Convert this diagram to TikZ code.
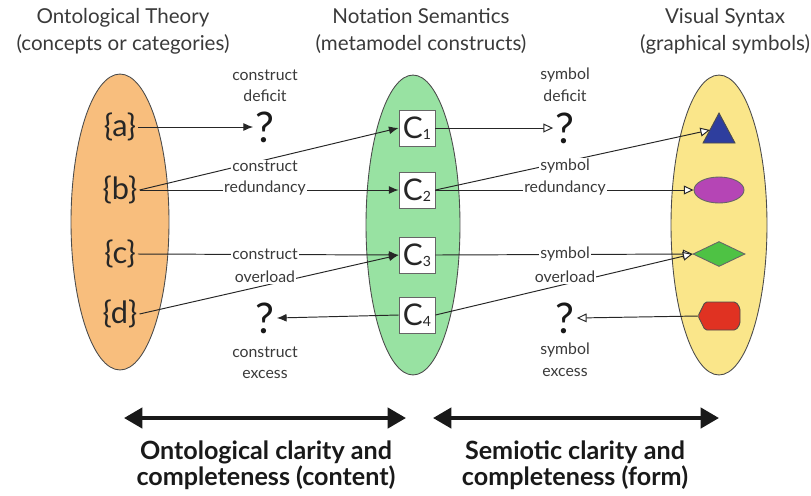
\documentclass[tikz,border=0pt]{standalone}
\usepackage{fontspec}
\setmainfont{Lato}
\usetikzlibrary{arrows.meta,shapes.geometric}
\definecolor{ontofill}{HTML}{F8BE7D}
\definecolor{semfill}{HTML}{98E2A2}
\definecolor{synfill}{HTML}{FAE68A}
\definecolor{triblue}{HTML}{2E3E9E}
\definecolor{ellpurple}{HTML}{B545B5}
\definecolor{diagreen}{HTML}{4EC244}
\definecolor{hexred}{HTML}{E03222}
\definecolor{txt}{HTML}{3A3A3A}
\begin{document}
\begin{tikzpicture}[x=0.02cm,y=-0.02cm,
  big/.style={ellipse, draw=black!70, line width=0.5pt, inner sep=0pt},
  setnode/.style={font=\fontsize{17.5}{19}\selectfont, text=black!85, inner sep=1pt},
  cbox/.style={draw=black!60, line width=0.5pt, fill=white, minimum size=0.72cm, inner sep=0pt, font=\fontsize{17}{18}\selectfont, text=black!85},
  lbl/.style={fill=white, inner sep=0.6pt, text=txt, font=\fontsize{9}{11}\selectfont},
  qm/.style={font=\fontsize{24}{26}\selectfont, inner sep=1.2pt, text=black!90},
  title/.style={align=center, text=txt, font=\fontsize{11.7}{15.3}\selectfont},
  bottomtxt/.style={align=center, text=black!90, font=\fontsize{14.3}{14.8}\selectfont\bfseries},
  conn/.style={draw=black!85, line width=0.55pt},
  fa/.style={conn, -{Latex[length=5.5pt,width=4.5pt]}},
  oa/.style={conn, -{Triangle[length=5.5pt,width=5pt,fill=white]}},
  dbl/.style={draw=black!90, line width=2.3pt, {Triangle[length=10.5pt,width=11.5pt]}-{Triangle[length=10.5pt,width=11.5pt]}}
]
\newcommand{\csub}[1]{\raisebox{-0.05ex}{\fontsize{8}{9}\selectfont #1}}
\useasboundingbox (0,0) rectangle (811,495);

% titles
\node[title] (t1) at (123,31) {Ontological Theory\\(concepts or categories)};
\node[title] (t2) at (421,31) {Notation Semantics\\(metamodel constructs)};
\node[title] (t3) at (725,31) {Visual Syntax\\(graphical symbols)};

% big ellipses
\node[big, fill=ontofill, minimum width=1.96cm, minimum height=5.92cm] (onto) at (120,222) {};
\node[big, fill=semfill, minimum width=1.88cm, minimum height=6.0cm] (sem) at (413,225) {};
\node[big, fill=synfill, minimum width=1.92cm, minimum height=6.0cm] (syn) at (719,225) {};

% ontology elements
\node[setnode] (a) at (120,127) {\{a\}};
\node[setnode] (b) at (120,190) {\{b\}};
\node[setnode] (c) at (120,254) {\{c\}};
\node[setnode] (d) at (120,314) {\{d\}};

% constructs
\node[cbox] (c1) at (417,128) {C\csub{1}};
\node[cbox] (c2) at (417,190) {C\csub{2}};
\node[cbox] (c3) at (417,255) {C\csub{3}};
\node[cbox] (c4) at (417,315) {C\csub{4}};

% symbols
\draw[draw=black!70, line width=0.5pt, fill=triblue] (719,113) -- (735,143) -- (703,143) -- cycle;
\coordinate (triL) at (710,130);
\node[ellipse, draw=black!60, line width=0.5pt, fill=ellpurple, minimum width=1.0cm, minimum height=0.52cm, inner sep=0pt] (pe) at (719,190) {};
\node[diamond, draw=black!60, line width=0.5pt, fill=diagreen, minimum width=1.04cm, minimum height=0.5cm, inner sep=0pt] (dia) at (719,254) {};
\draw[draw=black!70, line width=0.5pt, fill=hexred, rounded corners=1pt]
  (698,316) -- (705,302) -- (736,302) -- (740,308) -- (740,324) -- (736,330) -- (705,330) -- cycle;
\coordinate (hexL) at (698,316);

% question marks
\node[qm] (q1) at (265,127) {?};
\node[qm] (q2) at (265,318) {?};
\node[qm] (q3) at (565,128) {?};
\node[qm] (q4) at (565,318) {?};

% connectors left
\draw[fa] (a.east) -- (q1.west);
\draw[fa] (b.east) -- (c1.west);
\draw[fa] (b.east) -- (c2.west);
\draw[fa] (c.east) -- (c3.west);
\draw[fa] (d.east) -- (c3.west);
\draw[fa] (c4.west) -- (q2.east);

% connectors right
\draw[oa] (c1.east) -- (q3.west);
\draw[oa] (c2.east) -- (triL);
\draw[oa] (c2.east) -- (pe.west);
\draw[oa] (c3.east) -- (dia.west);
\draw[oa] (c4.east) -- (dia.west);
\draw[oa] (hexL) -- (q4.east);

% labels
\node[lbl] (l1) at (265,75) {construct};
\node[lbl] (l2) at (265,96) {deficit};
\node[lbl] (l3) at (265,166) {construct};
\node[lbl] (l4) at (265,188) {redundancy};
\node[lbl] (l5) at (265,254) {construct};
\node[lbl] (l6) at (265,277) {overload};
\node[lbl] (l7) at (265,352) {construct};
\node[lbl] (l8) at (265,374) {excess};

\node[lbl] (r1) at (565,75) {symbol};
\node[lbl] (r2) at (565,96) {deficit};
\node[lbl] (r3) at (565,166) {symbol};
\node[lbl] (r4) at (565,188) {redundancy};
\node[lbl] (r5) at (565,254) {symbol};
\node[lbl] (r6) at (565,277) {overload};
\node[lbl] (r7) at (565,350) {symbol};
\node[lbl] (r8) at (565,372) {excess};

% bottom
\coordinate (bl1) at (124,418);
\coordinate (bl2) at (406,418);
\coordinate (br1) at (433,418);
\coordinate (br2) at (719,418);
\draw[dbl] (bl1) -- (bl2);
\draw[dbl] (br1) -- (br2);
\node[bottomtxt] (bt1) at (266,465) {Ontological clarity and\\completeness (content)};
\node[bottomtxt] (bt2) at (575,465) {Semiotic clarity and\\completeness (form)};
\end{tikzpicture}
\end{document}
